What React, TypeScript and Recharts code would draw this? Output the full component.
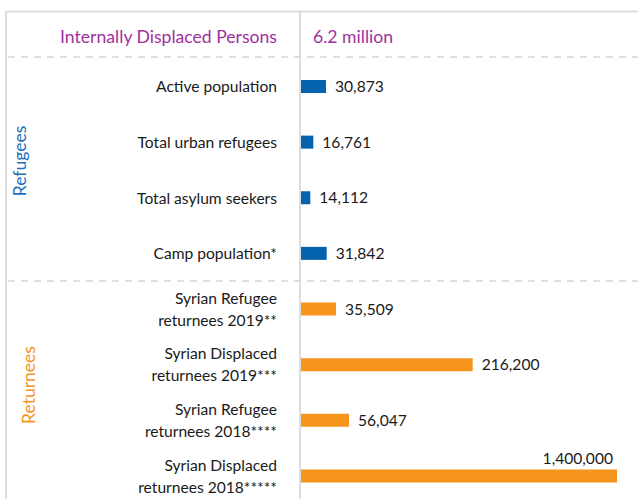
import React from "react";
import { BarChart, Bar, XAxis, YAxis, Cell, LabelList } from "recharts";

const categories = [
  "Active population",
  "Total urban refugees",
  "Total asylum seekers",
  "Camp population*",
  "Syrian Refugee\nreturnees 2019**",
  "Syrian Displaced\nreturnees 2019***",
  "Syrian Refugee\nreturnees 2018****",
  "Syrian Displaced\nreturnees 2018*****",
];
// Figures printed next to each bar
const values = [30873, 16761, 14112, 31842, 35509, 216200, 56047, 1400000];
// Bar lengths as drawn in the infographic (not to scale with the figures), relative units
const drawnLengths = [25, 12.3, 9.3, 25.7, 35, 171.7, 48, 316];
const groupOfRow = ["Refugees", "Refugees", "Refugees", "Refugees", "Returnees", "Returnees", "Returnees", "Returnees"];
const groupNames = ["Refugees", "Returnees"];
const groupColors = ["#0563ad", "#f7941d"];
const groupTextColors = ["#1c6fb8", "#f7941d"];
const headerLabel = "Internally Displaced Persons";
const headerValue = "6.2 million";

const data = categories.map((name, i) => ({
  name,
  length: drawnLengths[i],
  value: values[i],
  group: groupOfRow[i],
}));

const FONT = "Lato, 'Open Sans', sans-serif";
const FS = 15.6;

const CategoryTick = (props: any) => {
  const { y, payload } = props;
  const lines = String(payload.value).split("\n");
  const lh = 22;
  const start = -((lines.length - 1) * lh) / 2;
  return (
    <text x={277} y={y} textAnchor="end" fontFamily={FONT} fontSize={FS} fill="#1a1a1a">
      {lines.map((l, i) => (
        <tspan key={i} x={277} dy={i === 0 ? start + 5.5 : lh}>
          {l}
        </tspan>
      ))}
    </text>
  );
};

const ValueLabel = (props: any) => {
  const { x, y, width, height, value, index } = props;
  const txt = Number(value).toLocaleString("en-US");
  if (index === values.length - 1) {
    return (
      <text x={x + width - 4} y={y - 5} textAnchor="end" fontFamily={FONT} fontSize={FS} fill="#1a1a1a">
        {txt}
      </text>
    );
  }
  return (
    <text x={x + width + 9} y={y + height / 2 + 5.5} textAnchor="start" fontFamily={FONT} fontSize={FS} fill="#1a1a1a">
      {txt}
    </text>
  );
};

export default function App() {
  const W = 638;
  const H = 504;
  return (
    <div style={{ position: "absolute", left: 0, top: 0, width: W, height: H, background: "#fff" }}>
      <BarChart
        width={W}
        height={H}
        data={data}
        layout="vertical"
        margin={{ top: 59, right: 21, bottom: 0, left: 0 }}
        barCategoryGap={0}
      >
        <XAxis type="number" domain={[0, 316]} hide />
        <YAxis
          type="category"
          dataKey="name"
          width={301}
          axisLine={false}
          tickLine={false}
          tick={<CategoryTick />}
          interval={0}
        />
        <Bar dataKey="length" barSize={13} isAnimationActive={false}>
          {data.map((d, i) => (
            <Cell key={i} fill={groupColors[groupNames.indexOf(d.group)]} />
          ))}
          <LabelList dataKey="value" content={<ValueLabel />} />
        </Bar>
      </BarChart>
      <svg
        width={W}
        height={H}
        style={{ position: "absolute", left: 0, top: 0, pointerEvents: "none" }}
      >
        <line x1={6} y1={11.5} x2={W} y2={11.5} stroke="#dddddd" strokeWidth={2} />
        <line x1={6} y1={11} x2={6} y2={H} stroke="#dddddd" strokeWidth={2} />
        <line x1={300} y1={11} x2={300} y2={H} stroke="#dddddd" strokeWidth={2} />
        <line x1={8} y1={57} x2={W} y2={57} stroke="#d6d6d6" strokeWidth={1.5} strokeDasharray="7 6" />
        <line x1={8} y1={281} x2={W} y2={281} stroke="#d6d6d6" strokeWidth={1.5} strokeDasharray="7 6" />
        <text x={277} y={43} textAnchor="end" fontFamily={FONT} fontSize={17.6} fill="#a0319d">
          {headerLabel}
        </text>
        <text x={313} y={43} textAnchor="start" fontFamily={FONT} fontSize={17.6} fill="#a0319d">
          {headerValue}
        </text>
        <text
          x={0}
          y={0}
          transform="translate(26,161) rotate(-90)"
          textAnchor="middle"
          fontFamily={FONT}
          fontSize={17.5}
          fill={groupTextColors[0]}
        >
          {groupNames[0]}
        </text>
        <text
          x={0}
          y={0}
          transform="translate(35,385) rotate(-90)"
          textAnchor="middle"
          fontFamily={FONT}
          fontSize={17.5}
          fill={groupTextColors[1]}
        >
          {groupNames[1]}
        </text>
      </svg>
    </div>
  );
}
